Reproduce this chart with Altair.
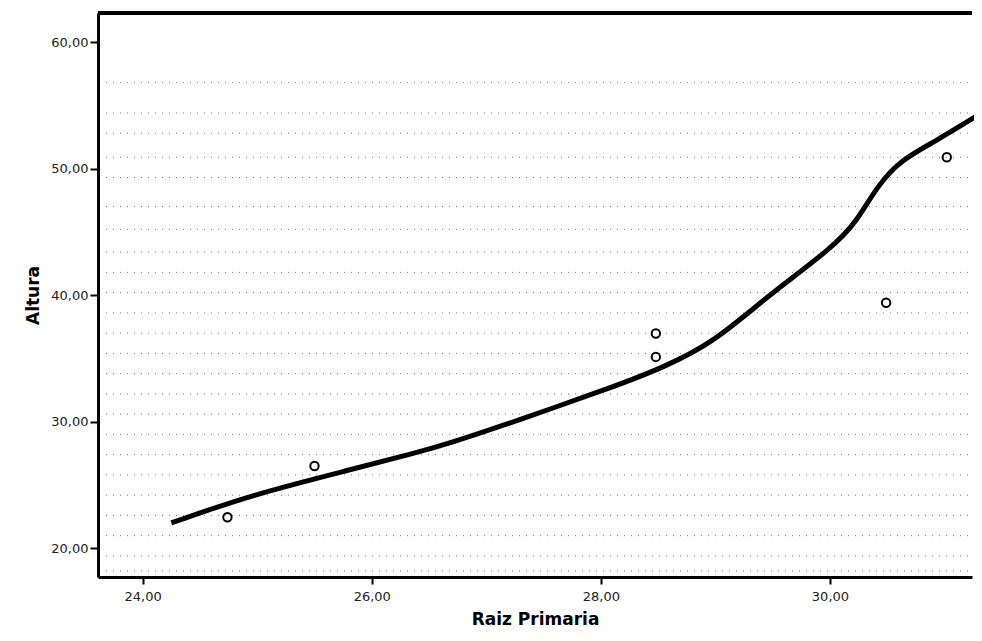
import altair as alt
import pandas as pd

# Observed points
pt_x = [24.74, 25.50, 28.48, 28.48, 30.49, 31.02]
pt_y = [22.45, 26.50, 36.97, 35.12, 39.40, 50.90]

# Fit line (loess-like curve)
fit_x = [24.25, 24.94, 25.81, 26.37, 26.68, 27.24, 28.11, 28.55, 28.99, 29.45, 30.03, 30.24, 30.41, 30.62, 30.91, 31.27]
fit_y = [22.0, 24.2, 26.2, 27.5, 28.3, 30.0, 32.75, 34.3, 36.3, 39.9, 43.8, 45.9, 48.6, 50.7, 52.1, 54.1]

# Dotted background texture rows
tex_y = [56.8, 54.4, 52.8, 50.9, 49.3, 47.0, 45.2, 43.4, 41.8, 40.2, 38.6, 37.0,
         35.4, 33.8, 32.2, 30.6, 29.0, 27.4, 25.8, 24.2, 22.6, 21.0, 19.4, 18.2]

x_ticks = [24, 26, 28, 30]
y_ticks = [20, 30, 40, 50, 60]

XD = [23.61, 31.24]
YD = [17.73, 62.3]

pts = pd.DataFrame({"x": pt_x, "y": pt_y})
fit = pd.DataFrame({"x": fit_x, "y": fit_y})
tex = pd.DataFrame({"y": tex_y})

xs = alt.Scale(domain=XD, nice=False, zero=False)
ys = alt.Scale(domain=YD, nice=False, zero=False)

xaxis = alt.Axis(values=x_ticks, format=".2f", labelExpr="replace(datum.label, '.', ',')",
                 title="Raiz Primaria", grid=False, domainColor="black", domainWidth=3,
                 tickColor="black", tickWidth=2, tickSize=7, labelFont="DejaVu Sans",
                 labelFontSize=13, labelColor="#222", labelPadding=6,
                 titleFont="DejaVu Sans", titleFontSize=17, titleFontWeight="bold",
                 titleColor="black", titlePadding=8)
yaxis = alt.Axis(values=y_ticks, format=".2f", labelExpr="replace(datum.label, '.', ',')",
                 title="Altura", grid=False, domainColor="black", domainWidth=3,
                 tickColor="black", tickWidth=2, tickSize=8, labelFont="DejaVu Sans",
                 labelFontSize=13, labelColor="#222", labelPadding=2,
                 titleFont="DejaVu Sans", titleFontSize=17, titleFontWeight="bold",
                 titleColor="black", titlePadding=8)

texture = alt.Chart(tex).mark_rule(color="#555", strokeWidth=1, strokeDash=[1, 6], opacity=0.8).encode(
    y=alt.Y("y:Q", scale=ys, axis=yaxis),
    x=alt.value(8),
    x2=alt.value(874),
)

top_border = alt.Chart(tex).mark_rule(color="black", strokeWidth=3).encode(
    y=alt.value(0),
    x=alt.value(0),
    x2=alt.value(874),
)

line = alt.Chart(fit).mark_line(color="black", strokeWidth=5, interpolate="basis").encode(
    x=alt.X("x:Q", scale=xs, axis=xaxis),
    y=alt.Y("y:Q", scale=ys),
)

points = alt.Chart(pts).mark_point(shape="circle", filled=False, color="black", opacity=1,
                                   size=70, strokeWidth=2).encode(
    x=alt.X("x:Q", scale=xs),
    y=alt.Y("y:Q", scale=ys),
)

chart = alt.layer(texture, top_border, line, points).properties(
    width=874, height=564,
    autosize=alt.AutoSizeParams(type="none"),
    padding={"left": 90, "top": 5, "right": 2, "bottom": 56},
).configure(background="white").configure_view(stroke=None)

chart.save("out.html", embed_options={"renderer": "svg", "actions": False})
